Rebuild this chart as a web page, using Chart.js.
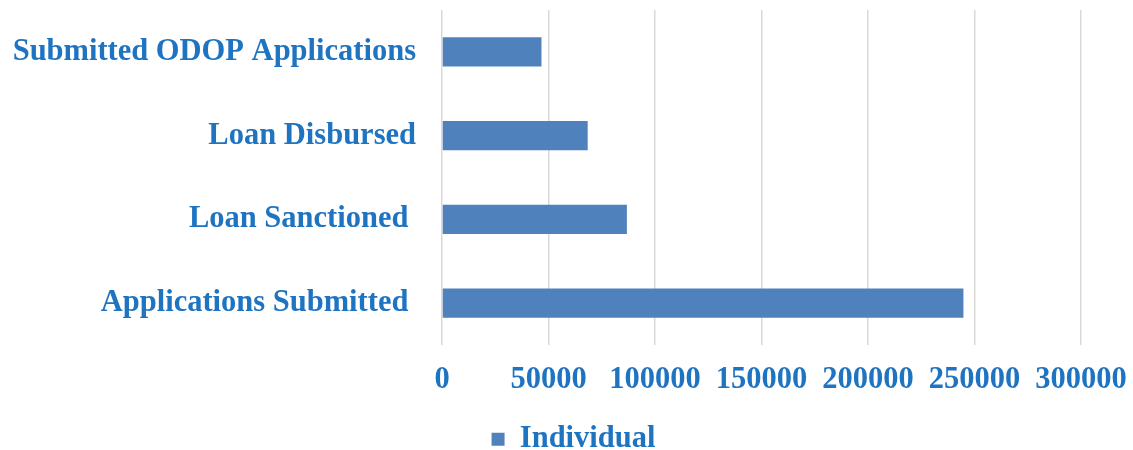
<!DOCTYPE html>
<html>
<head>
<meta charset="utf-8">
<script src="https://cdn.jsdelivr.net/npm/chart.js@4/dist/chart.umd.min.js"></script>
<style>
    html, body { margin: 0; padding: 0; background: #fff; }
    #wrap { width: 1133px; height: 450px; position: relative; }
</style>
</head>
<body>
<div id="wrap"><canvas id="odopChart"></canvas></div>
<script>
// Data
const categories = ['Submitted ODOP Applications', 'Loan Disbursed', 'Loan Sanctioned ', 'Applications Submitted '];
const individualValues = [46700, 68400, 86800, 244800];
const seriesName = 'Individual';
const xTicks = [0, 50000, 100000, 150000, 200000, 250000, 300000];

const textBlue = '#1f74c2';
const barBlue = '#4f81bd';
const serif = '"Liberation Serif", "Times New Roman", serif';

const ctx = document.getElementById('odopChart');

new Chart(ctx, {
    type: 'bar',
    data: {
        labels: categories,
        datasets: [{
            label: seriesName,
            data: individualValues,
            backgroundColor: barBlue,
            borderWidth: 0,
            categoryPercentage: 0.35,
            barPercentage: 1.0
        }]
    },
    options: {
        indexAxis: 'y',
        responsive: true,
        maintainAspectRatio: false,
        animation: false,
        layout: {
            padding: { top: 10, right: 0, left: 14, bottom: 0 }
        },
        plugins: {
            legend: {
                display: true,
                position: 'bottom',
                maxHeight: 29,
                labels: {
                    color: textBlue,
                    boxWidth: 13,
                    boxHeight: 13,
                    padding: 3,
                    font: { family: serif, size: 30.5, weight: 'bold' }
                }
            },
            tooltip: { enabled: false }
        },
        scales: {
            x: {
                min: 0,
                max: 300000,
                afterBuildTicks: function (axis) {
                    axis.ticks = xTicks.map(v => ({ value: v }));
                },
                afterFit: function (axis) {
                    // keep the value axis the same size as in the picture
                    axis.height = 76;
                    axis.paddingLeft = 0;
                    axis.paddingRight = 52;
                },
                grid: {
                    color: '#d9d9d9',
                    lineWidth: 1.5,
                    drawTicks: false
                },
                border: { display: false },
                ticks: {
                    color: textBlue,
                    padding: 17,
                    maxRotation: 0,
                    callback: function (value) {
                        return String(value);
                    },
                    font: { family: serif, size: 30.5, weight: 'bold' }
                }
            },
            y: {
                afterFit: function (axis) {
                    axis.width = 428;
                    axis.paddingTop = 0;
                    axis.paddingBottom = 0;
                },
                grid: { display: false, drawTicks: false },
                border: { display: false },
                ticks: {
                    color: textBlue,
                    padding: 26,
                    font: { family: serif, size: 30.5, weight: 'bold' }
                }
            }
        }
    }
});
</script>
</body>
</html>
